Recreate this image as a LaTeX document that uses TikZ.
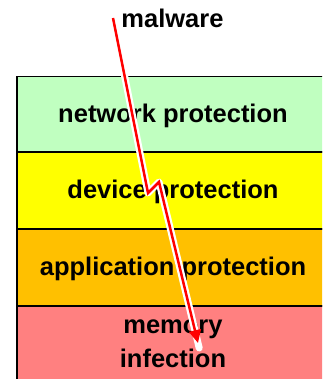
\documentclass[tikz,border=0pt]{standalone}
\usepackage{fontspec}
\setmainfont{Liberation Sans}
\usetikzlibrary{arrows.meta}
\definecolor{netgreen}{RGB}{192,255,192}
\definecolor{devyellow}{RGB}{255,255,0}
\definecolor{apporange}{RGB}{255,192,0}
\definecolor{mempink}{RGB}{255,128,128}
\begin{document}
\begin{tikzpicture}[x=1pt,y=-1pt,
  layerbox/.style={draw=black, line width=1.3pt, minimum width=312pt, inner sep=0pt, outer sep=0pt, anchor=north west},
  lbl/.style={font=\bfseries\fontsize{25.5}{34}\selectfont, inner sep=0pt, align=center},
  halo/.style={white, line width=7pt, line cap=round, line join=round},
  bolt/.style={red, line width=2.5pt, line join=miter, -{Triangle[length=13pt,width=12pt]}}]
\useasboundingbox (0,0) rectangle (322,379);
\clip (0,0) rectangle (322,379);
\node[layerbox, fill=netgreen, minimum height=75.5pt] (L1) at (17,76.5) {};
\node[layerbox, fill=devyellow, minimum height=77pt] (L2) at (L1.south west) {};
\node[layerbox, fill=apporange, minimum height=77pt] (L3) at (L2.south west) {};
\node[layerbox, fill=mempink, minimum height=80pt] (L4) at (L3.south west) {};
\node[lbl, anchor=base] (T1) at ([yshift=-8.5pt]L1.center) {network protection};
\node[lbl, anchor=base] (T2) at ([yshift=-8pt]L2.center) {device protection};
\node[lbl, anchor=base] (T3) at ([yshift=-7.5pt]L3.center) {application protection};
\node[lbl] (T4) at (173,343.5) {memory\\infection};
\node[lbl, anchor=base] (mw) at (172.5,28) {malware};
\coordinate (a0) at (113,18);
\coordinate (a1) at (148,193);
\coordinate (a2) at (159,182);
\coordinate (a3) at (198,343);
\coordinate (a4) at (199.2,348);
\draw[halo] (a0) -- (a1) -- (a2) -- (a4);
\draw[bolt] (a0) -- (a1) -- (a2) -- (a3);
\end{tikzpicture}
\end{document}
